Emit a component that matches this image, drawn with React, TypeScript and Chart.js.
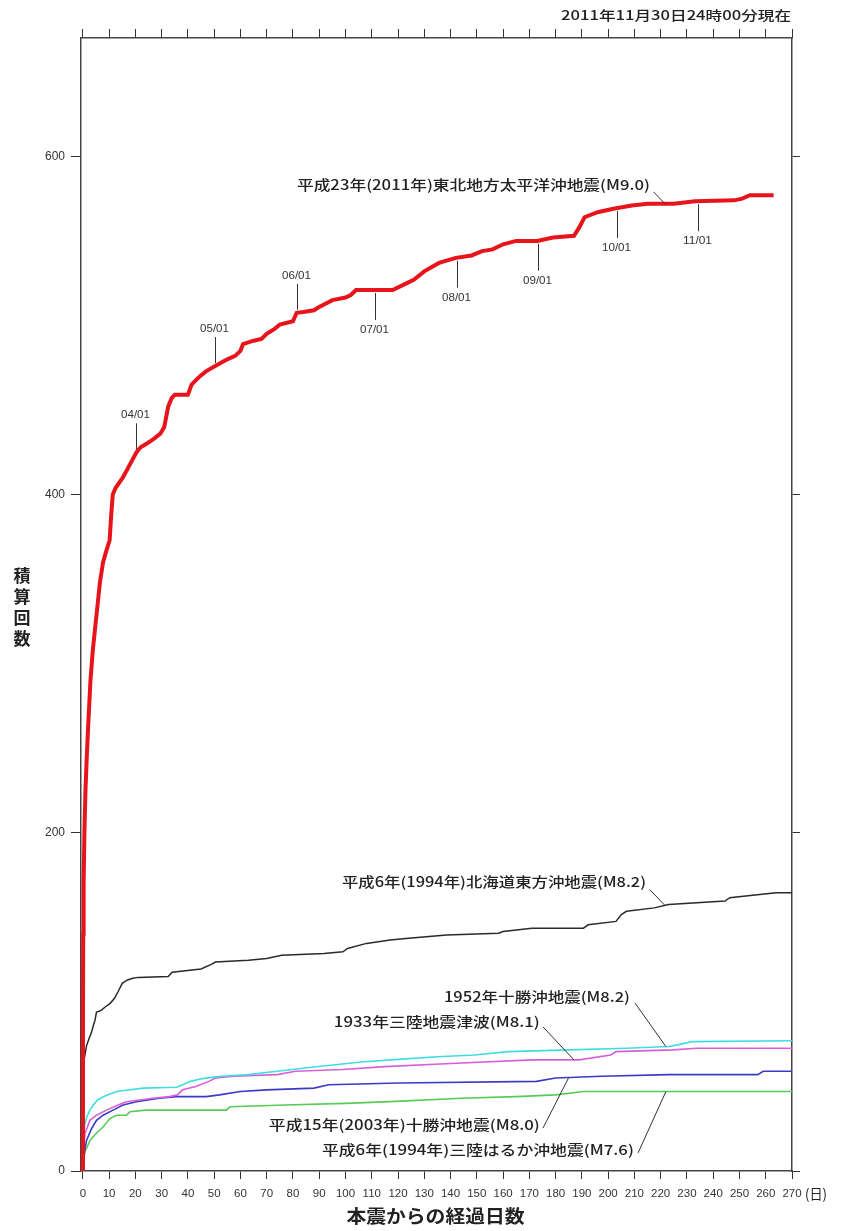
import { useEffect, useRef } from 'react';
import { Chart, registerables } from 'chart.js';

Chart.register(...registerables);

// ---- data (days since main shock, cumulative count) ----
const X_TICKS = [0, 10, 20, 30, 40, 50, 60, 70, 80, 90, 100, 110, 120, 130, 140, 150, 160, 170, 180, 190, 200, 210, 220, 230, 240, 250, 260, 270];
const Y_TICKS = [0, 200, 400, 600];

const TOHOKU_DAYS = [0, 0.05, 0.15, 0.3, 0.6, 1.0, 1.5, 2.0, 2.9, 3.8, 4.6, 5.5, 6.5, 7.7, 9, 10.2, 10.8, 11.4, 12.5, 15.2, 18, 20.4, 22, 24.2, 27, 29.5, 31, 32.5, 33.8, 35, 40, 41.4, 44.6, 47, 50.4, 55, 58, 60, 61, 65, 68, 70, 73, 75, 80, 81.4, 84, 88, 90, 95, 100, 102, 104, 118, 122, 126, 130, 135.6, 142, 148, 152, 156, 160, 165, 173, 179, 187, 189, 191, 196, 202, 209, 215, 225, 233, 248, 251, 254, 263];
const TOHOKU_COUNTS = [0, 90, 140, 170, 200, 225, 245, 262, 290, 308, 320, 333, 348, 360, 367, 373, 388, 400, 404, 410, 418, 425, 428, 430, 433, 436, 440, 452, 457, 459, 459, 465, 470, 473, 476, 480, 482, 485, 489, 491, 492, 495, 498, 500.6, 502.5, 507.5, 508, 509, 511, 515, 516.5, 518, 521, 521, 524, 527, 532, 537, 540, 541.4, 544, 545, 548, 550, 550, 552, 553, 558, 564, 567, 569, 571, 572, 572, 573.4, 574, 575, 577, 577];

const HOKKAIDO_DAYS = [0, 0.05, 0.15, 0.5, 1.4, 2.3, 3.3, 4, 4.6, 5.2, 7, 8.5, 10.3, 12, 13.4, 15, 17, 19, 21, 32.5, 34, 45, 48.7, 50.5, 63, 70, 75.7, 91.8, 99, 100.8, 108, 117, 124, 138.5, 158.3, 160, 171, 190.6, 192.4, 203, 205, 207, 217.6, 223, 244.5, 246.3, 255, 264, 270];
const HOKKAIDO_COUNTS = [0, 40, 60, 66, 74, 78, 82, 86, 89, 94, 95, 97, 99, 102, 106, 111, 113, 114, 114.5, 115, 117.5, 119.5, 122, 123.6, 124.6, 125.6, 127.6, 128.6, 129.6, 131.6, 134.6, 136.6, 137.6, 139.6, 140.6, 141.6, 143.6, 143.6, 145.6, 147.6, 151.6, 153.6, 155.6, 157.6, 159.6, 161.6, 163, 164.5, 164.5];

const TOKACHI1952_DAYS = [0, 0.1, 0.3, 0.8, 1.5, 2.7, 4, 5.6, 8, 10.3, 12.8, 15, 23, 35.7, 38, 41, 45, 49.6, 53, 63, 74, 88, 106, 120, 135, 149, 162, 185, 207, 223, 226.5, 232, 270];
const TOKACHI1952_COUNTS = [0, 12, 22, 28, 32, 36, 39, 42, 44, 45.5, 47, 47.5, 49, 49.5, 51, 53, 54.5, 55.5, 56, 57, 59, 61.5, 64.5, 66, 67.6, 68.6, 70.6, 71.6, 72.6, 73.6, 74.6, 76.5, 77];

const SANRIKU1933_DAYS = [0, 0.2, 0.8, 2.7, 5.2, 9, 13.4, 16.6, 21.7, 26.7, 33, 36, 38, 43, 48, 50.5, 57.7, 74, 81, 99, 115, 140, 171, 189, 201, 203, 224.7, 233.7, 270];
const SANRIKU1933_COUNTS = [0, 10, 22, 30, 33, 36, 39, 41, 42, 43, 44, 45, 48, 50, 53, 55, 56, 57, 59, 60, 61.7, 63.6, 65.7, 65.7, 68.6, 70.6, 71.6, 72.6, 72.6];

const TOKACHI2003_DAYS = [0, 0.3, 0.8, 1.4, 3.3, 5.2, 7.7, 11.5, 15.3, 20.4, 29, 35.7, 47, 52, 60, 70, 88, 93.6, 120.6, 172.7, 180, 197.6, 223, 257, 259, 270];
const TOKACHI2003_COUNTS = [0, 8, 13, 18, 25, 30, 33, 36, 39, 41, 43, 44, 44, 45, 47, 48, 49, 51, 52, 53, 55, 56, 57, 57, 59, 59];

const HARUKA1994_DAYS = [0, 0.3, 1, 2.7, 5.2, 7.7, 10.3, 12.8, 16.6, 17.9, 24, 54.7, 56, 77, 100, 117, 144, 165, 180, 190.6, 270];
const HARUKA1994_COUNTS = [0, 8, 12, 18, 22.5, 26, 31, 33, 33, 35, 36, 36, 38, 39, 40, 41, 43, 44, 45, 47, 47];

const SERIES_NAMES = [
  '平成23年(2011年)東北地方太平洋沖地震(M9.0)',
  '平成6年(1994年)北海道東方沖地震(M8.2)',
  '1952年十勝沖地震(M8.2)',
  '1933年三陸地震津波(M8.1)',
  '平成15年(2003年)十勝沖地震(M8.0)',
  '平成6年(1994年)三陸はるか沖地震(M7.6)',
];
const SERIES_DAYS = [TOHOKU_DAYS, HOKKAIDO_DAYS, TOKACHI1952_DAYS, SANRIKU1933_DAYS, TOKACHI2003_DAYS, HARUKA1994_DAYS];
const SERIES_COUNTS = [TOHOKU_COUNTS, HOKKAIDO_COUNTS, TOKACHI1952_COUNTS, SANRIKU1933_COUNTS, TOKACHI2003_COUNTS, HARUKA1994_COUNTS];

const MONTH_LABELS = ['04/01', '05/01', '06/01', '07/01', '08/01', '09/01', '10/01', '11/01'];
const MONTH_DAYS = [20.4, 50.4, 81.4, 111.4, 142.4, 173.4, 203.4, 234.4];

// ---- styles ----
const SERIES_COLORS = ['#e8141b', '#2a2a2a', '#3fdde0', '#d95fd9', '#3a3ac8', '#55cc55'];
const SERIES_WIDTHS = [4, 1.5, 1.6, 1.6, 1.6, 1.6];
const MONTH_UP = [true, true, true, false, false, false, false, false];

// label placement: text right end (day, count), target width px, leader start (day,count), leader end day
const LABEL_PLACES = [
  { tx: 215.9, ty: 583.4, w: 353, lx: 217.3, ly: 579.0, ex: 221.6 },
  { tx: 214.4, ty: 171.0, w: 304, lx: 215.9, ly: 166.3, ex: 221.6 },
  { tx: 208.3, ty: 103.0, w: 186, lx: 210.2, ly: 99.4, ex: 222.0 },
  { tx: 174.0, ty: 88.2, w: 206, lx: 175.2, ly: 85.2, ex: 187.0 },
  { tx: 174.0, ty: 27.2, w: 271, lx: 175.2, ly: 25.4, ex: 185.0 },
  { tx: 209.8, ty: 12.4, w: 312, lx: 211.4, ly: 10.7, ex: 222.0 },
];

const CJK = "'Noto Sans CJK JP', 'Noto Sans', sans-serif";
const LATIN = "'Liberation Sans Narrow', 'Liberation Sans', Arial, sans-serif";

function interp(xs: number[], ys: number[], x: number): number {
  if (x <= xs[0]) return ys[0];
  for (let i = 1; i < xs.length; i++) {
    if (x <= xs[i]) {
      const t = (x - xs[i - 1]) / (xs[i] - xs[i - 1]);
      return ys[i - 1] + t * (ys[i] - ys[i - 1]);
    }
  }
  return ys[ys.length - 1];
}

function drawFit(ctx: CanvasRenderingContext2D, text: string, x: number, y: number, width: number, font: string, align: 'left' | 'right' | 'center') {
  ctx.save();
  ctx.font = font;
  ctx.textBaseline = 'middle';
  ctx.textAlign = 'left';
  const m = ctx.measureText(text).width;
  const s = width / m;
  const left = align === 'right' ? x - width : align === 'center' ? x - width / 2 : x;
  ctx.translate(left, y);
  ctx.scale(s, 1);
  ctx.fillText(text, 0, 0);
  ctx.restore();
}

const annotationPlugin = {
  id: 'quakeAnnotations',
  afterDraw(chart: any) {
    const ctx: CanvasRenderingContext2D = chart.ctx;
    const xs = chart.scales.x;
    const ys = chart.scales.y;
    const area = chart.chartArea;
    ctx.save();
    ctx.fillStyle = '#222';
    ctx.strokeStyle = '#333';
    ctx.lineWidth = 1;

    // month markers on the 2011 curve
    MONTH_LABELS.forEach((lab, i) => {
      const d = MONTH_DAYS[i];
      const px = Math.round(xs.getPixelForValue(d)) + 0.5;
      const py = ys.getPixelForValue(interp(TOHOKU_DAYS, TOHOKU_COUNTS, d));
      const up = MONTH_UP[i];
      const y0 = up ? py - 3 : py + 3;
      const y1 = up ? py - 29 : py + 30;
      ctx.beginPath();
      ctx.moveTo(px, y0);
      ctx.lineTo(px, y1);
      ctx.stroke();
      ctx.fillStyle = '#333';
      drawFit(ctx, lab, px - 1, up ? y1 - 8 : y1 + 10, 29, `11px ${LATIN}`, 'center');
    });

    // series labels with leaders
    ctx.fillStyle = '#222';
    SERIES_NAMES.forEach((name, i) => {
      const p = LABEL_PLACES[i];
      const tx = xs.getPixelForValue(p.tx);
      const ty = ys.getPixelForValue(p.ty);
      drawFit(ctx, name, tx, ty, p.w, `500 14px ${CJK}`, 'right');
      const lx = xs.getPixelForValue(p.lx);
      const ly = ys.getPixelForValue(p.ly);
      const ex = xs.getPixelForValue(p.ex);
      const ey = ys.getPixelForValue(interp(SERIES_DAYS[i], SERIES_COUNTS[i], p.ex));
      ctx.beginPath();
      ctx.moveTo(lx, ly);
      ctx.lineTo(ex, ey);
      ctx.stroke();
    });

    // header
    drawFit(ctx, '2011年11月30日24時00分現在', area.right - 1, 15, 230, `500 13px ${CJK}`, 'right');
    // unit
    drawFit(ctx, '(日)', area.right + 13, area.bottom + 23, 22, `14px ${CJK}`, 'left');
    // x title
    drawFit(ctx, '本震からの経過日数', (area.left + area.right) / 2 - 1, area.bottom + 45, 178, `bold 18px ${CJK}`, 'center');
    // y title stacked vertically
    const chars = ['積', '算', '回', '数'];
    ctx.font = `bold 17px ${CJK}`;
    ctx.textAlign = 'center';
    ctx.textBaseline = 'middle';
    chars.forEach((c, k) => ctx.fillText(c, 22, 576 + k * 21));
    ctx.restore();
  },
};

export default function App() {
  const ref = useRef<HTMLCanvasElement | null>(null);
  useEffect(() => {
    if (!ref.current) return;
    const tickFont = { family: LATIN, size: 11.5 };
    const xTicks = (s: any) => {
      s.ticks = X_TICKS.map((v) => ({ value: v }));
    };
    const yTicks = (s: any) => {
      s.ticks = Y_TICKS.map((v) => ({ value: v }));
    };
    const grid = (len: number) => ({ drawOnChartArea: false, drawTicks: true, tickLength: len, color: '#333', lineWidth: 1 });
    const border = { display: true, color: '#444', width: 1.5 };
    const chart = new Chart(ref.current, {
      type: 'line',
      data: {
        datasets: SERIES_NAMES.map((name, i) => ({
          label: name,
          data: SERIES_DAYS[i].map((d, k) => ({ x: d, y: SERIES_COUNTS[i][k] })),
          borderColor: SERIES_COLORS[i],
          borderWidth: SERIES_WIDTHS[i],
          pointRadius: 0,
          fill: false,
          tension: 0,
        })),
      },
      options: {
        responsive: false,
        animation: false,
        devicePixelRatio: 1,
        layout: { padding: 0 },
        plugins: { legend: { display: false }, tooltip: { enabled: false } },
        scales: {
          x: {
            type: 'linear', position: 'bottom', min: -0.7, max: 270,
            afterBuildTicks: xTicks,
            ticks: { autoSkip: false, maxRotation: 0, font: tickFont, color: '#333', padding: 8 },
            grid: grid(8), border,
            afterFit: (s: any) => { s.height = 60; },
          },
          xTop: {
            type: 'linear', position: 'top', min: -0.7, max: 270,
            afterBuildTicks: xTicks,
            ticks: { display: false },
            grid: grid(9), border,
            afterFit: (s: any) => { s.height = 38; },
          },
          y: {
            type: 'linear', position: 'left', min: 0, max: 670,
            afterBuildTicks: yTicks,
            ticks: { font: { family: LATIN, size: 12 }, color: '#333', padding: 6 },
            grid: grid(10), border,
            afterFit: (s: any) => { s.width = 81; },
          },
          yRight: {
            type: 'linear', position: 'right', min: 0, max: 670,
            afterBuildTicks: yTicks,
            ticks: { display: false },
            grid: grid(8), border,
            afterFit: (s: any) => { s.width = 55; },
          },
        },
      } as any,
      plugins: [annotationPlugin],
    });
    return () => chart.destroy();
  }, []);
  return (
    <div style={{ position: 'absolute', left: 0, top: 0, width: 847, height: 1231, background: '#fff' }}>
      <canvas ref={ref} width={847} height={1231} style={{ display: 'block' }} />
    </div>
  );
}
